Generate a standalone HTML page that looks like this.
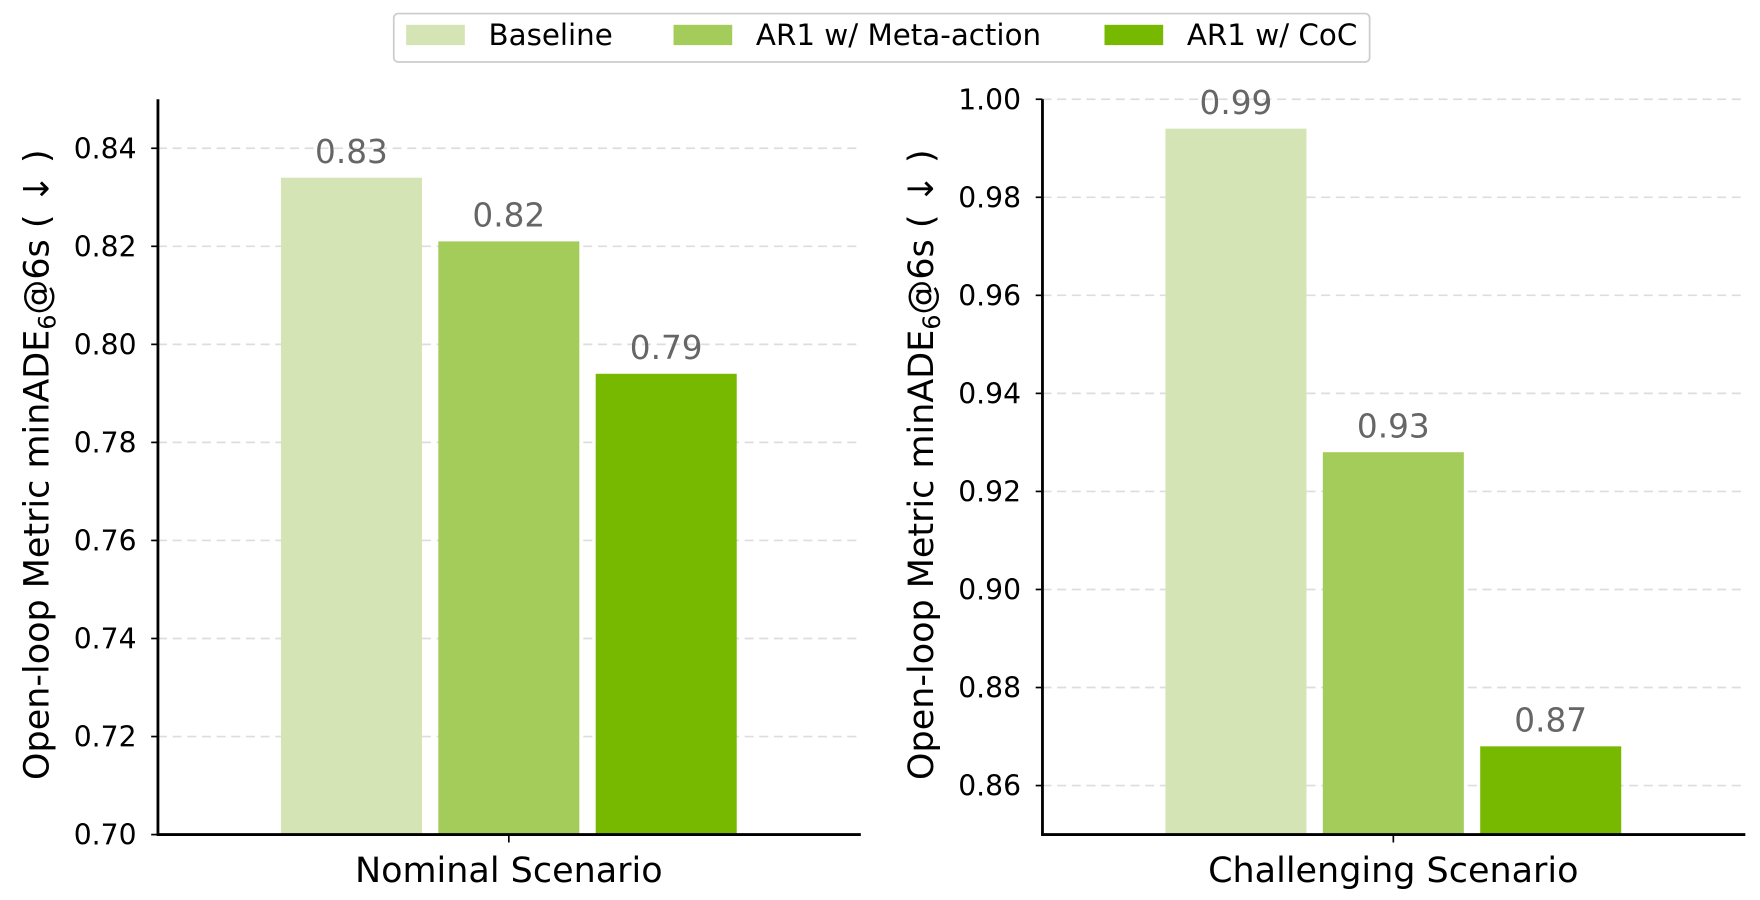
<!DOCTYPE html>
<html><head><meta charset="utf-8"><style>
html,body{margin:0;padding:0;background:#fff;}
svg{display:block;font-family:"DejaVu Sans","Liberation Sans",sans-serif;}
</style></head><body>
<svg id="chart" width="1760" height="900" viewBox="0 0 1560 798" preserveAspectRatio="none" xmlns="http://www.w3.org/2000/svg">
<g>
<rect x="349" y="12" width="865" height="43" rx="4" fill="#fff" stroke="#ccc" stroke-width="1.5"/>
<rect x="360" y="22" width="52" height="18" fill="#d4e4b4"/>
<text x="433" y="40" font-size="26">Baseline</text>
<rect x="597" y="22" width="52" height="18" fill="#a3cc5a"/>
<text x="670" y="40" font-size="26">AR1 w/ Meta-action</text>
<rect x="979" y="22" width="52" height="18" fill="#76b900"/>
<text x="1052" y="40" font-size="26">AR1 w/ CoC</text>
</g>
</svg>
<script>
const seriesNames = ["Baseline", "AR1 w/ Meta-action", "AR1 w/ CoC"];
const nominalValues = [0.834, 0.821, 0.794];
const challengingValues = [0.994, 0.928, 0.868];
const nominalLabels = ["0.83", "0.82", "0.79"];
const challengingLabels = ["0.99", "0.93", "0.87"];
const nominalTicks = [0.70, 0.72, 0.74, 0.76, 0.78, 0.80, 0.82, 0.84];
const challengingTicks = [0.86, 0.88, 0.90, 0.92, 0.94, 0.96, 0.98, 1.00];
const categories = ["Nominal Scenario", "Challenging Scenario"];

const colors = ["#d4e4b4", "#a3cc5a", "#76b900"];
const NS = "http://www.w3.org/2000/svg";
const svg = document.getElementById("chart");
function mk(tag, attrs, parent) {
  const e = document.createElementNS(NS, tag);
  for (const k in attrs) e.setAttribute(k, attrs[k]);
  (parent || svg).appendChild(e);
  return e;
}
function panel(px, yMin, yMax, values, labels, ticks, cat, key) {
  const top = 88, bottom = 740, left = px, right = px + 623;
  const y = v => bottom - (v - yMin) / (yMax - yMin) * (bottom - top);
  const g = mk("g", {});
  
  
  ticks.forEach(t => {
    const gl = mk("line", {x1: left, x2: right, y1: y(t), y2: y(t), stroke: "#ddd", "stroke-width": 1.5, "stroke-dasharray": "8,5"}, g);
    
    
    mk("line", {x1: left - 6, x2: left, y1: y(t), y2: y(t), stroke: "#000", "stroke-width": 1.5}, g);
    const tl = mk("text", {x: left - 19, y: y(t) + 9, "text-anchor": "end", "font-size": 25}, g);
    tl.textContent = t.toFixed(2);
    
    
  });
  const x0 = left + 109, bw = 125, step = 139.5;
  values.forEach((v, i) => {
    const bx = x0 + i * step;
    const b = mk("rect", {x: bx, y: y(v), width: bw, height: bottom - y(v), fill: colors[i]}, g);
    
    
    const vl = mk("text", {x: bx + bw / 2, y: y(v) - 13, "text-anchor": "middle", "font-size": 29, fill: "#666"}, g);
    vl.textContent = labels[i];
    
    
  });
  mk("line", {x1: left, x2: left, y1: top, y2: bottom + 1, stroke: "#000", "stroke-width": 2.5}, g);
  mk("line", {x1: left - 1, x2: right, y1: bottom, y2: bottom, stroke: "#000", "stroke-width": 2.5}, g);
  const cx = left + 311;
  mk("line", {x1: cx, x2: cx, y1: bottom, y2: bottom + 7, stroke: "#000", "stroke-width": 1.5}, g);
  const xl = mk("text", {x: cx, y: 782, "text-anchor": "middle", "font-size": 31}, g);
  xl.textContent = cat;
  
  
  const yl = mk("text", {x: 0, y: 0, "text-anchor": "middle", "font-size": 31, transform: "translate(" + (left - 97) + ",412) rotate(-90)"}, g);
  yl.innerHTML = 'Open-loop Metric minADE<tspan font-size="21" dy="6">6</tspan><tspan dy="-6">@6s ( ↓ )</tspan>';
  
  
}
panel(140, 0.70, 0.85, nominalValues, nominalLabels, nominalTicks, categories[0], "nominal");
panel(924, 0.85, 1.00, challengingValues, challengingLabels, challengingTicks, categories[1], "challenging");
</script>
</body></html>
